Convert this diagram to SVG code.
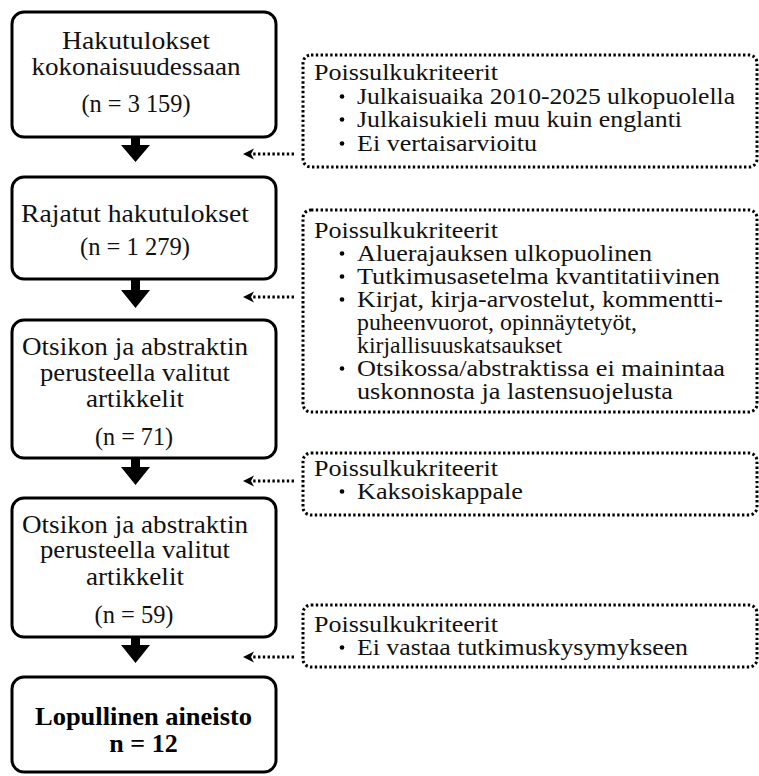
<svg xmlns="http://www.w3.org/2000/svg" width="759" height="776" viewBox="0 0 759 776">
<style>
.box{fill:#fff;stroke:#000;stroke-width:3}
.dbox{fill:#fff;stroke:#000;stroke-width:3;stroke-dasharray:2.4 2.4}
text{font-family:'Liberation Serif','DejaVu Serif','Noto Serif',Tinos,serif}
.t{font-size:25px;fill:#111;text-anchor:middle}
.tb{font-size:26px;font-weight:bold;fill:#000;text-anchor:middle}
.r{font-size:24px;fill:#111}
.dl{fill:none;stroke:#000;stroke-width:3;stroke-dasharray:2.4 2.4}
</style>
<defs>
<marker id="ah" viewBox="0 0 12 12" refX="9" refY="6" markerWidth="12" markerHeight="12" markerUnits="userSpaceOnUse" orient="auto">
<path d="M1,0.5 L12,6 L1,11.5 L4,6 Z" fill="#000"/>
</marker>
</defs>
<rect width="759" height="776" fill="#fff"/>

<g id="n1">
<rect class="box" x="12" y="12" width="264" height="125" rx="12"/>
<text class="t" x="136" y="49" textLength="148" lengthAdjust="spacingAndGlyphs">Hakutulokset</text>
<text class="t" x="136" y="75" textLength="209" lengthAdjust="spacingAndGlyphs">kokonaisuudessaan</text>
<text class="t" x="136" y="112" textLength="109" lengthAdjust="spacingAndGlyphs">(n = 3 159)</text>
</g>
<g id="n2">
<rect class="box" x="12" y="177" width="264" height="102" rx="12"/>
<text class="t" x="135" y="222" textLength="228" lengthAdjust="spacingAndGlyphs">Rajatut hakutulokset</text>
<text class="t" x="135" y="255" textLength="110" lengthAdjust="spacingAndGlyphs">(n = 1 279)</text>
</g>
<g id="n3">
<rect class="box" x="12" y="320" width="264" height="138" rx="12"/>
<text class="t" x="135" y="355" textLength="226" lengthAdjust="spacingAndGlyphs">Otsikon ja abstraktin</text>
<text class="t" x="135" y="381" textLength="190" lengthAdjust="spacingAndGlyphs">perusteella valitut</text>
<text class="t" x="135" y="407" textLength="98" lengthAdjust="spacingAndGlyphs">artikkelit</text>
<text class="t" x="134" y="445" textLength="78" lengthAdjust="spacingAndGlyphs">(n = 71)</text>
</g>
<g id="n4">
<rect class="box" x="12" y="498" width="264" height="139" rx="12"/>
<text class="t" x="135" y="533" textLength="226" lengthAdjust="spacingAndGlyphs">Otsikon ja abstraktin</text>
<text class="t" x="135" y="558" textLength="190" lengthAdjust="spacingAndGlyphs">perusteella valitut</text>
<text class="t" x="135" y="585" textLength="98" lengthAdjust="spacingAndGlyphs">artikkelit</text>
<text class="t" x="134" y="623" textLength="79" lengthAdjust="spacingAndGlyphs">(n = 59)</text>
</g>
<g id="n5">
<rect class="box" x="12" y="677" width="264" height="95" rx="12"/>
<text class="tb" x="143.5" y="725" textLength="217" lengthAdjust="spacingAndGlyphs">Lopullinen aineisto</text>
<text class="tb" x="143.5" y="752">n = 12</text>
</g>

<g id="e1">
<rect class="dbox" x="303" y="55" width="454" height="112" rx="8"/>
<text class="r" x="314" y="80" textLength="184" lengthAdjust="spacingAndGlyphs">Poissulkukriteerit</text>
<circle cx="342" cy="96.5" r="2.3"/><text class="r" x="357" y="104" textLength="378" lengthAdjust="spacingAndGlyphs">Julkaisuaika 2010-2025 ulkopuolella</text>
<circle cx="342" cy="119.5" r="2.3"/><text class="r" x="357" y="127" textLength="325" lengthAdjust="spacingAndGlyphs">Julkaisukieli muu kuin englanti</text>
<circle cx="342" cy="143.5" r="2.3"/><text class="r" x="357" y="151" textLength="180" lengthAdjust="spacingAndGlyphs">Ei vertaisarvioitu</text>
</g>
<g id="e2">
<rect class="dbox" x="303" y="210" width="454" height="202" rx="8"/>
<text class="r" x="314" y="238" textLength="184" lengthAdjust="spacingAndGlyphs">Poissulkukriteerit</text>
<circle cx="342" cy="253.5" r="2.3"/><text class="r" x="357" y="261" textLength="295" lengthAdjust="spacingAndGlyphs">Aluerajauksen ulkopuolinen</text>
<circle cx="342" cy="276.5" r="2.3"/><text class="r" x="357" y="284" textLength="363" lengthAdjust="spacingAndGlyphs">Tutkimusasetelma kvantitatiivinen</text>
<circle cx="342" cy="299.5" r="2.3"/><text class="r" x="357" y="307" textLength="366" lengthAdjust="spacingAndGlyphs">Kirjat, kirja-arvostelut, kommentti-</text>
<text class="r" x="357" y="330" textLength="280" lengthAdjust="spacingAndGlyphs">puheenvuorot, opinnäytetyöt,</text>
<text class="r" x="357" y="353" textLength="205" lengthAdjust="spacingAndGlyphs">kirjallisuuskatsaukset</text>
<circle cx="342" cy="368.5" r="2.3"/><text class="r" x="357" y="376" textLength="368" lengthAdjust="spacingAndGlyphs">Otsikossa/abstraktissa ei mainintaa</text>
<text class="r" x="357" y="399" textLength="316" lengthAdjust="spacingAndGlyphs">uskonnosta ja lastensuojelusta</text>
</g>
<g id="e3">
<rect class="dbox" x="303" y="453" width="454" height="62" rx="8"/>
<text class="r" x="314" y="476" textLength="184" lengthAdjust="spacingAndGlyphs">Poissulkukriteerit</text>
<circle cx="342" cy="491.5" r="2.3"/><text class="r" x="357" y="499" textLength="166" lengthAdjust="spacingAndGlyphs">Kaksoiskappale</text>
</g>
<g id="e4">
<rect class="dbox" x="303" y="605" width="454" height="62" rx="8"/>
<text class="r" x="314" y="632" textLength="184" lengthAdjust="spacingAndGlyphs">Poissulkukriteerit</text>
<circle cx="342" cy="647.5" r="2.3"/><text class="r" x="357" y="655" textLength="331" lengthAdjust="spacingAndGlyphs">Ei vastaa tutkimuskysymykseen</text>
</g>

<g id="connectors">
<path d="M131,137 L140,137 L140,145 L150,145 L135.5,162 L121,145 L131,145 Z" fill="#000"/>
<path d="M131,279 L140,279 L140,290 L150,290 L135.5,308 L121,290 L131,290 Z" fill="#000"/>
<path d="M131,458 L140,458 L140,467 L150,467 L135.5,485 L121,467 L131,467 Z" fill="#000"/>
<path d="M131,637 L140,637 L140,645 L150,645 L135.5,663 L121,645 L131,645 Z" fill="#000"/>
<line class="dl" x1="294" y1="154" x2="246" y2="154" marker-end="url(#ah)"/>
<line class="dl" x1="294" y1="297" x2="246" y2="297" marker-end="url(#ah)"/>
<line class="dl" x1="294" y1="481" x2="246" y2="481" marker-end="url(#ah)"/>
<line class="dl" x1="294" y1="657" x2="246" y2="657" marker-end="url(#ah)"/>
</g>
</svg>
